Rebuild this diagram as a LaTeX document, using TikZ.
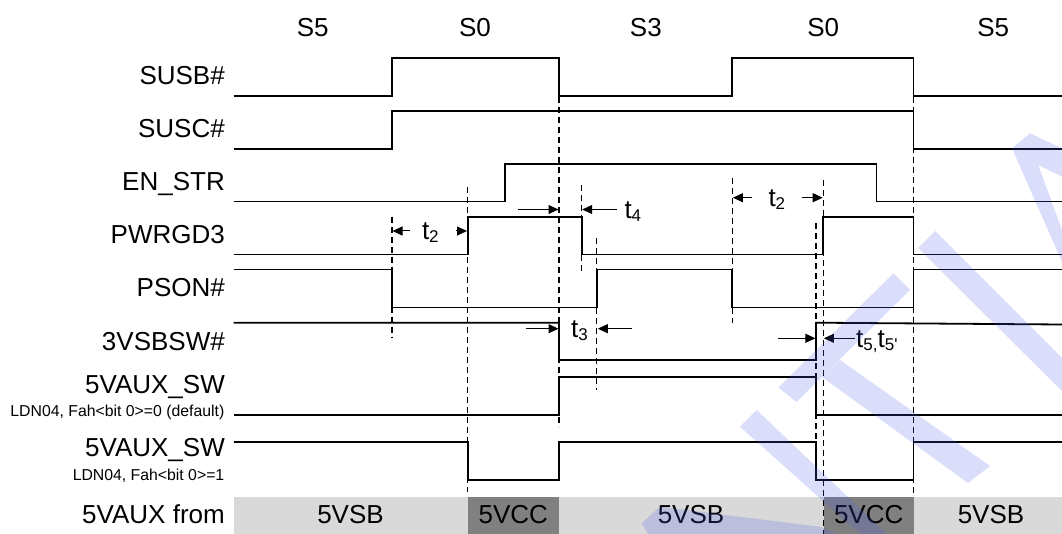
\documentclass[tikz,border=0pt]{standalone}
\usepackage{fontspec}
\setmainfont{Liberation Sans}
\usetikzlibrary{arrows.meta}
\definecolor{bandlight}{RGB}{217,217,217}
\definecolor{banddark}{RGB}{128,128,128}
\definecolor{wmark}{RGB}{70,90,235}
\newcommand{\tlab}[1]{t\raisebox{-3pt}{\fontsize{17}{17}\selectfont #1}}
\begin{document}
\begin{tikzpicture}[x=1pt,y=-1pt,
  sig/.style={line width=1.8pt},
  dsh/.style={line width=1.4pt, dash pattern=on 6pt off 4pt},
  tarr/.style={line width=1pt, -{Triangle[length=10pt,width=9pt]}},
  big/.style={font=\fontsize{26}{30}\selectfont, inner sep=0pt},
  lbl/.style={big, anchor=base east},
  sml/.style={font=\fontsize{15.8}{18}\selectfont, anchor=base east, inner sep=0pt},
  stt/.style={big, anchor=base},
  tl/.style={big, anchor=base west},
  wm/.style={fill=wmark, fill opacity=0.2}
]
\useasboundingbox (0,0) rectangle (1062,534);

% supply band
\fill[bandlight] (233.5,497) rectangle (1062,534);
\fill[banddark] (467.6,497) rectangle (559,534);
\fill[banddark] (824,497) rectangle (913.5,534);
\node[stt] (b1) at (350.5,523.3) {5VSB};
\node[stt] (b2) at (513.3,523.3) {5VCC};
\node[stt] (b3) at (691,523.3) {5VSB};
\node[stt] (b4) at (868.7,523.3) {5VCC};
\node[stt] (b5) at (991,523.3) {5VSB};

% states
\node[stt] (s1) at (312.7,36.7) {S5};
\node[stt] (s2) at (475,36.7) {S0};
\node[stt] (s3) at (645.8,36.7) {S3};
\node[stt] (s4) at (823.2,36.7) {S0};
\node[stt] (s5) at (993.2,36.7) {S5};

% signal names
\node[lbl] (lsusb) at (225,85) {SUSB\#};
\node[lbl] (lsusc) at (225,138) {SUSC\#};
\node[lbl] (len) at (225,190.5) {EN\_STR};
\node[lbl] (lpw) at (225,243.3) {PWRGD3};
\node[lbl] (lps) at (225,296.7) {PSON\#};
\node[lbl] (l3v) at (225,350) {3VSBSW\#};
\node[lbl] (l5a) at (225,393.3) {5VAUX\_SW};
\node[sml] (l5an) at (224.5,416.7) {LDN04, Fah<bit 0>=0 (default)};
\node[lbl] (l5b) at (225,456.7) {5VAUX\_SW};
\node[sml] (l5bn) at (224.5,480) {LDN04, Fah<bit 0>=1};
\node[lbl] (l5f) at (225,523.3) {5VAUX from};

% waveforms
\draw[sig] (233.5,96) -- (392,96) -- (392,58.3) -- (559,58.3) -- (559,96) -- (732.3,96) -- (732.3,58.3) -- (913.5,58.3) -- (913.5,96) -- (1062,96);
\draw[sig] (233.5,149) -- (392,149) -- (392,111) -- (913.5,111) -- (913.5,149) -- (1062,149);
\draw[sig] (233.5,201.5) -- (505,201.5) -- (505,164) -- (876.4,164) -- (876.4,201.5) -- (1062,201.5);
\draw[sig] (233.5,254.6) -- (467.6,254.6) -- (467.6,217) -- (581.6,217) -- (581.6,254.6) -- (823.3,254.6) -- (823.3,217) -- (913.5,217) -- (913.5,254.6) -- (1062,254.6);
\draw[sig] (233.5,269.6) -- (392,269.6) -- (392,307.5) -- (596.7,307.5) -- (596.7,269.6) -- (732.3,269.6) -- (732.3,307.5) -- (913.5,307.5) -- (913.5,269.6) -- (1062,269.6);
\draw[sig] (233.5,322.7) -- (559,322.7) -- (559,360) -- (816,360) -- (816,322.7) -- (1062,324.5);
\draw[sig] (233.5,415) -- (559,415) -- (559,376.7) -- (816,376.7) -- (816,415) -- (1062,415);
\draw[sig] (233.5,442.3) -- (467.6,442.3) -- (467.6,480) -- (559,480) -- (559,442.3) -- (816,442.3) -- (816,480) -- (913.5,480) -- (913.5,442.3) -- (1062,442.3);

% timing reference lines
\draw[dsh] (392,216.7) -- (392,338.3);
\draw[dsh] (467.6,186.7) -- (467.6,491.7);
\draw[dsh] (559,96.7) -- (559,426.7);
\draw[dsh] (581.6,185) -- (581.6,273.3);
\draw[dsh] (596.7,238.3) -- (596.7,390);
\draw[dsh] (732.3,178.3) -- (732.3,323.3);
\draw[dsh] (816,223.3) -- (816,480);
\draw[dsh] (823.3,180) -- (823.3,534);
\draw[dsh] (913.5,96.7) -- (913.5,493.3);

% timing arrows and labels
\draw[tarr] (409.8,231) -- (392.5,231);
\draw[tarr] (456,231) -- (467,231);
\node[tl] (t2a) at (421.8,240) {\tlab{2}};
\draw[tarr] (518.3,209.5) -- (558.5,209.5);
\draw[tarr] (616.7,209.5) -- (582.2,209.5);
\node[tl] (t4) at (624.3,219) {\tlab{4}};
\draw[tarr] (525.5,328.7) -- (558.5,328.7);
\draw[tarr] (632.3,328.7) -- (597.8,328.7);
\node[tl] (t3) at (571,337.7) {\tlab{3}};
\draw[tarr] (751.7,197.7) -- (732.9,197.7);
\draw[tarr] (801.7,197.7) -- (822.7,197.7);
\node[tl] (t2b) at (768.3,206.7) {\tlab{2}};
\draw[tarr] (778.3,338.3) -- (815.4,338.3);
\draw[tarr] (855,338.3) -- (823.9,338.3);
\node[tl] (t5) at (856,347) {t\raisebox{-3pt}{\fontsize{17}{17}\selectfont 5,}t\raisebox{-3pt}{\fontsize{17}{17}\selectfont 5\textquotesingle}};

% watermark
\fill[wm] (1012,148.3) -- (1030,133.3) -- (1062,148.3) -- (1062,176.7) -- (1038.3,165) -- (1062,230) -- (1062,262) -- cycle;
\fill[wm] (918,248) -- (935,231) -- (1062,358) -- (1062,391) -- cycle;
\fill[wm] (778.5,387.5) -- (893.3,273.3) -- (910,290) -- (796.5,402) -- cycle;
\fill[wm] (822,377) -- (840,360) -- (990,466) -- (968,483) -- cycle;
\fill[wm] (740,426.7) -- (756.7,410) -- (886.7,534) -- (860,534) -- cycle;
\fill[wm] (641.7,523.3) -- (660,506.7) -- (820,526.7) -- (836.7,534) -- (648,534) -- cycle;
\end{tikzpicture}
\end{document}
